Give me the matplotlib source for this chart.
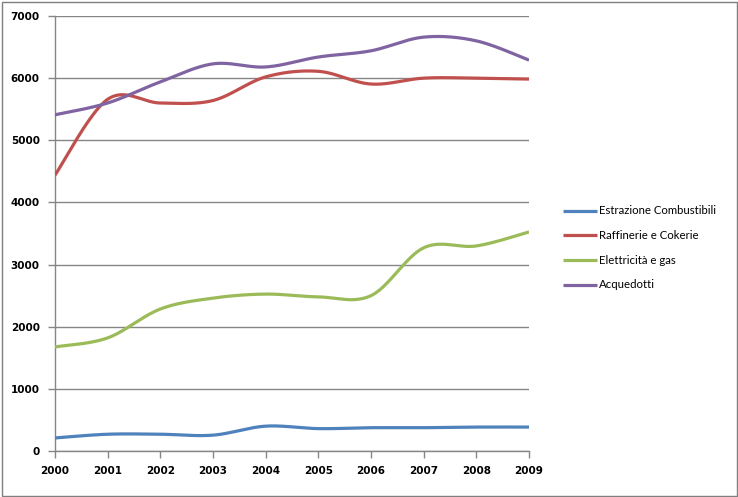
import numpy as np
import matplotlib
matplotlib.use("Agg")
import matplotlib.pyplot as plt
from matplotlib.patches import Rectangle

years = [2000, 2001, 2002, 2003, 2004, 2005, 2006, 2007, 2008, 2009]
estrazione = [210, 270, 270, 255, 400, 360, 375, 375, 385, 385]
raffinerie = [4440, 5660, 5600, 5640, 6020, 6110, 5905, 6000, 6000, 5985]
elettricita = [1675, 1820, 2285, 2460, 2525, 2480, 2500, 3270, 3300, 3525]
acquedotti = [5410, 5600, 5940, 6230, 6180, 6340, 6440, 6660, 6600, 6290]

labels = ["Estrazione Combustibili", "Raffinerie e Cokerie", "Elettricità e gas", "Acquedotti"]
colors = ["#4F81BD", "#C0504D", "#9BBB59", "#8064A2"]


def smooth(xs, ys, n=40):
    x = np.asarray(xs, float)
    y = np.asarray(ys, float)
    P = np.column_stack([x, y])
    out = []
    m = len(P)
    for i in range(m - 1):
        p0 = P[i - 1] if i > 0 else P[i]
        p1 = P[i]
        p2 = P[i + 1]
        p3 = P[i + 2] if i + 2 < m else P[i + 1]
        c1 = p1 + (p2 - p0) / 6.0
        c2 = p2 - (p3 - p1) / 6.0
        t = np.linspace(0, 1, n)[:, None]
        seg = ((1 - t) ** 3) * p1 + 3 * ((1 - t) ** 2) * t * c1 + 3 * (1 - t) * t ** 2 * c2 + t ** 3 * p2
        if i > 0:
            seg = seg[1:]
        out.append(seg)
    arr = np.vstack(out)
    return arr[:, 0], arr[:, 1]


W, H = 738, 497
fig = plt.figure(figsize=(W / 100, H / 100), dpi=100)
fig.patch.set_facecolor("white")
fig.add_artist(Rectangle((1.5 / W, 1.5 / H), (W - 3) / W, (H - 3) / H, transform=fig.transFigure,
                         fill=False, edgecolor="#7f7f7f", linewidth=1.0))

ax = fig.add_axes([55 / W, 1 - 451 / H, (529 - 55) / W, (451 - 16) / H])
idx = np.arange(len(years))
for data, lab, col in zip([estrazione, raffinerie, elettricita, acquedotti], labels, colors):
    sx, sy = smooth(idx, data)
    ax.plot(sx, sy, color=col, linewidth=2.3, label=lab, solid_capstyle="butt", zorder=3)

ax.set_xlim(0, len(years) - 1)
ax.set_ylim(0, 7000)
ax.set_yticks(range(0, 7001, 1000))
ax.set_xticks(idx)
ax.set_xticklabels([str(y) for y in years])
ax.grid(axis="y", color="#868686", linewidth=1.0)
ax.set_axisbelow(True)
for s in ["top", "right"]:
    ax.spines[s].set_visible(False)
for s in ["left", "bottom"]:
    ax.spines[s].set_color("#868686")
    ax.spines[s].set_linewidth(1.0)
ax.tick_params(axis="both", colors="#868686", length=5, width=1.0, direction="out",
               labelcolor="black", labelsize=7.5)
ax.tick_params(axis="x", pad=6)
ax.tick_params(axis="y", pad=6)
for t in ax.get_xticklabels() + ax.get_yticklabels():
    t.set_fontweight("bold")
    t.set_family("DejaVu Sans")

leg = ax.legend(loc="center left", bbox_to_anchor=(553 / W, 1 - 248 / H), bbox_transform=fig.transFigure,
                frameon=False, prop={"family": "Lato", "size": 8.2}, handlelength=3.0,
                handletextpad=0.15, labelspacing=1.2)

fig.savefig("out.png", dpi=100)
